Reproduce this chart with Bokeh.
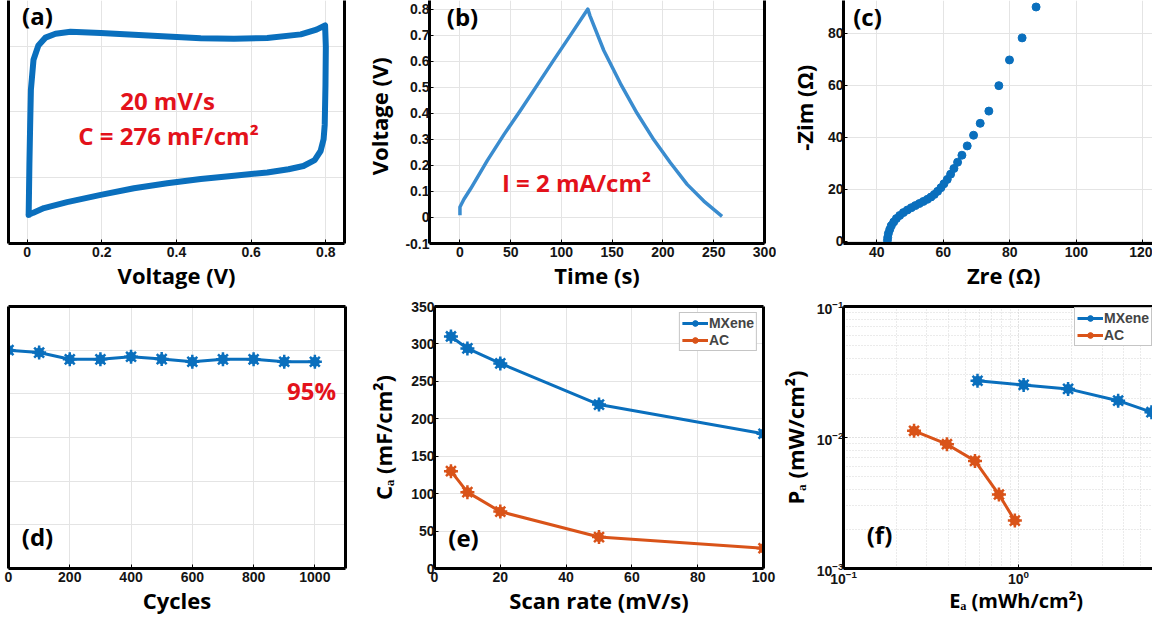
import math
from bokeh.plotting import figure
from bokeh.layouts import row, column
from bokeh.models import (Range1d, FixedTicker, CustomJSTickFormatter, Label,
                          LinearAxis, LogAxis, Legend, LegendItem, LogTickFormatter)
from bokeh.embed import file_html
from bokeh.resources import INLINE

# ---------------- data ----------------
# (a) cyclic voltammogram, 20 mV/s
cv_voltage = [0.004, 0.005, 0.006, 0.008, 0.010, 0.017, 0.030, 0.049, 0.076, 0.116,
              0.197, 0.286, 0.375, 0.465, 0.554, 0.643, 0.733, 0.775, 0.798,
              0.800, 0.799, 0.797, 0.794, 0.786, 0.770, 0.740, 0.700, 0.643, 0.554,
              0.465, 0.375, 0.286, 0.197, 0.107, 0.045, 0.015, 0.004]
cv_current = [-7.9, -6.0, -4.0, -1.0, 1.7, 4.0, 5.1, 5.7, 6.0, 6.15,
              6.05, 5.93, 5.78, 5.66, 5.62, 5.68, 5.95, 6.31, 6.64,
              5.0, 2.0, -1.0, -2.1, -3.0, -3.7, -4.15, -4.4, -4.65, -4.9,
              -5.15, -5.48, -5.86, -6.37, -6.92, -7.38, -7.75, -7.9]
cv_xticks = [0, 0.2, 0.4, 0.6, 0.8]
cv_yticks = [-10, -5, 0, 5]

# (b) galvanostatic charge/discharge, 2 mA/cm2
gcd_time = [0, 0, 3.9, 10.5, 26.9, 43.3, 59.7, 76.1, 92.5, 108.9, 123.7, 126.0,
            128.0, 141.7, 158.1, 174.5, 191.0, 207.3, 223.8, 240.2, 258.2]
gcd_voltage = [0.008, 0.04, 0.07, 0.11, 0.218, 0.318, 0.412, 0.508, 0.605, 0.700,
               0.787, 0.800, 0.775, 0.641, 0.514, 0.400, 0.298, 0.210, 0.127, 0.063, 0.004]
gcd_xticks = [0, 50, 100, 150, 200, 250, 300]
gcd_yticks = [-0.1, 0, 0.1, 0.2, 0.3, 0.4, 0.5, 0.6, 0.7, 0.8]

# (c) Nyquist plot
nyq_zre = [43.2, 43.3, 43.5, 43.9, 44.4, 45.1, 45.9, 46.9, 48.0, 49.2, 50.4, 51.6,
           52.8, 54.0, 55.2, 56.3, 57.3, 58.3, 59.3, 60.2, 61.2, 62.2, 63.2, 64.3,
           65.6, 67.2, 69.1, 71.1, 73.7, 76.7, 79.9, 83.7, 87.9]
nyq_zim = [0.3, 1.5, 3.0, 4.5, 6.0, 7.4, 8.7, 9.9, 11.0, 12.0, 12.9, 13.7,
           14.5, 15.3, 16.1, 17.0, 18.0, 19.2, 20.6, 22.1, 23.8, 25.8, 28.0, 30.4,
           33.1, 36.7, 40.8, 45.4, 50.1, 59.9, 69.8, 78.3, 90.2]
nyq_xticks = [40, 60, 80, 100, 120]
nyq_yticks = [0, 20, 40, 60, 80]

# (d) cycling stability
cycles = [0, 100, 200, 300, 400, 500, 600, 700, 800, 900, 1000]
retention = [100, 98.9, 95.8, 95.8, 97.0, 95.9, 94.7, 95.8, 95.8, 94.7, 94.7]
cyc_xticks = [0, 200, 400, 600, 800, 1000]
cyc_yticks = [0, 20, 40, 60, 80, 100, 120]

# (e) areal capacitance vs scan rate
scan_rate = [5, 10, 20, 50, 100]
ca_mxene = [310, 294, 274, 219, 180]
ca_ac = [130, 102, 76, 42, 27]
sr_xticks = [0, 20, 40, 60, 80, 100]
sr_yticks = [0, 50, 100, 150, 200, 250, 300, 350]

# (f) Ragone plot
ea_mxene = [0.583, 1.07, 1.92, 3.71, 5.75]
pa_mxene = [0.0271, 0.0252, 0.0235, 0.0191, 0.0156]
ea_ac = [0.253, 0.390, 0.564, 0.773, 0.953]
pa_ac = [0.01125, 0.00889, 0.00663, 0.00367, 0.00232]
rag_xticks = [0.1, 1, 10]
rag_xminor = [0.2, 0.3, 0.4, 0.5, 0.6, 0.7, 0.8, 0.9, 2, 3, 4, 5, 6, 7, 8, 9]
rag_yticks = [0.001, 0.01, 0.1]
rag_yminor = [0.002, 0.003, 0.004, 0.005, 0.006, 0.007, 0.008, 0.009,
              0.02, 0.03, 0.04, 0.05, 0.06, 0.07, 0.08, 0.09]

# ---------------- styling ----------------
BLUE = "#0a6fbd"
BLUE_B = "#3a8ccf"
ORANGE = "#d95319"
RED = "#e3121b"
GRID = "#e4e4e4"
TICK_FONT = "Liberation Sans"
TITLE_FONT = "Open Sans"
TITLE_PX = "22px"
NB = "\u00a0"


def style_axis(ax):
    ax.axis_line_width = 3
    ax.axis_line_color = "black"
    ax.major_tick_in = 4
    ax.major_tick_out = 0
    ax.minor_tick_in = 0
    ax.minor_tick_out = 0
    ax.major_tick_line_color = "black"
    ax.major_label_text_font = TICK_FONT
    ax.major_label_text_font_style = "bold"
    ax.major_label_text_font_size = "14px"
    ax.major_label_text_color = "#141414"
    ax.major_label_standoff = 3
    ax.axis_label_standoff = 0
    ax.axis_label_text_font = TITLE_FONT
    ax.axis_label_text_font_style = "bold"
    ax.axis_label_text_font_size = TITLE_PX
    ax.axis_label_text_color = "black"


def base_fig(width, height, xr, yr, borders, x_type="linear", y_type="linear"):
    l, r, t, b = borders
    p = figure(width=width, height=height, x_range=Range1d(*xr), y_range=Range1d(*yr),
               x_axis_type=x_type, y_axis_type=y_type, output_backend="svg",
               toolbar_location=None, min_border_left=l, min_border_right=r,
               min_border_top=t, min_border_bottom=b)
    p.outline_line_color = None
    p.border_fill_color = "white"
    p.background_fill_color = "white"
    p.grid.grid_line_color = GRID
    p.grid.grid_line_width = 1
    for ax in list(p.xaxis) + list(p.yaxis):
        style_axis(ax)
    for ax in p.yaxis:
        ax.major_label_standoff = 0
    return p


def frame_axis(p, side, log=False):
    cls = LogAxis if log else LinearAxis
    ax = cls(ticker=FixedTicker(ticks=[]), axis_line_width=3, axis_line_color="black",
             major_tick_in=0, major_tick_out=0, minor_tick_in=0, minor_tick_out=0,
             major_label_standoff=0, axis_label_standoff=0)
    p.add_layout(ax, side)


def txt(p, x, y, text, size, color="black"):
    p.add_layout(Label(x=x, y=y, x_units="screen", y_units="screen", text=text,
                       text_font=TITLE_FONT, text_font_size=f"{size}px",
                       text_font_style="bold", text_color=color,
                       text_align="center", text_baseline="middle"))


def marker_series(p, x, y, color, lw=3):
    r1 = p.line(x, y, color=color, line_width=lw)
    r2 = p.scatter(x, y, marker="circle", size=9, color=color)
    r3 = p.scatter(x, y, marker="asterisk", size=14, line_width=2.5, line_color=color)
    return [r1, r2, r3]


one_dec = "return (Math.round(tick*10)/10).toString();"

TOP_H, BOT_H = 292, 325
TOP_BB, BOT_TB, BOT_BB = 47, 14, 48

# ---------------- (a) ----------------
pa = base_fig(356, TOP_H, (-0.05, 0.85), (-10.1, 8.55), (8, 12, 0, TOP_BB))
pa.xaxis.ticker = FixedTicker(ticks=cv_xticks)
pa.xaxis.formatter = CustomJSTickFormatter(code=one_dec)
pa.xaxis.axis_label = "Voltage (V)"
pa.yaxis.ticker = FixedTicker(ticks=[])
pa.ygrid.ticker = FixedTicker(ticks=cv_yticks)
pa.xgrid.ticker = FixedTicker(ticks=cv_xticks)
frame_axis(pa, "right")
pa.line(cv_voltage + cv_voltage[:1], cv_current + cv_current[:1], color=BLUE,
        line_width=6, line_join="round", line_cap="round")
txt(pa, 29, 228, "(a)", 24)
txt(pa, 159, 143, "20 mV/s", 24, color=RED)
txt(pa, 160, 108, "C = 276 mF/cm\u00b2", 24, color=RED)

# ---------------- (b) ----------------
pb = base_fig(420, TOP_H, (-30, 300), (-0.1, 0.833), (73, 12, 0, TOP_BB))
pb.xaxis.ticker = FixedTicker(ticks=gcd_xticks)
pb.yaxis.ticker = FixedTicker(ticks=gcd_yticks)
pb.yaxis.formatter = CustomJSTickFormatter(code=one_dec)
pb.xaxis.axis_label = "Time (s)"
pb.yaxis.axis_label = NB * 2 + "Voltage (V)"
pb.yaxis.axis_label_standoff = 8
frame_axis(pb, "right")
pb.line(gcd_time, gcd_voltage, color=BLUE_B, line_width=3.5, line_join="round")
txt(pb, 33, 227, "(b)", 24)
txt(pb, 147, 61, "I = 2 mA/cm\u00b2", 24, color=RED)

# ---------------- (c) ----------------
pc = base_fig(376, TOP_H, (30, 122.9), (-0.9, 92.7), (67, 0, 0, TOP_BB))
pc.xaxis.ticker = FixedTicker(ticks=nyq_xticks)
pc.yaxis.ticker = FixedTicker(ticks=nyq_yticks)
pc.xaxis.axis_label = NB * 2 + "Zre (\u03a9)"
pc.yaxis.axis_label = NB * 5 + "-Zim (\u03a9)"
pc.yaxis.axis_label_standoff = 6
pc.scatter(nyq_zre, nyq_zim, marker="circle", size=8, color=BLUE)
txt(pc, 24, 227, "(c)", 24)

# ---------------- (d) ----------------
pd_ = base_fig(356, BOT_H, (0, 1100), (0, 120), (8, 11, BOT_TB, BOT_BB))
pd_.xaxis.ticker = FixedTicker(ticks=cyc_xticks)
pd_.xaxis.axis_label = "Cycles"
pd_.yaxis.ticker = FixedTicker(ticks=[])
pd_.ygrid.ticker = FixedTicker(ticks=cyc_yticks)
frame_axis(pd_, "right")
frame_axis(pd_, "above")
marker_series(pd_, cycles, retention, BLUE)
txt(pd_, 29, 32, "(d)", 24)
txt(pd_, 303, 178, "95%", 24, color=RED)

# ---------------- (e) ----------------
pe = base_fig(420, BOT_H, (0, 100), (0, 350), (78, 13, BOT_TB, BOT_BB))
pe.xaxis.ticker = FixedTicker(ticks=sr_xticks)
pe.yaxis.ticker = FixedTicker(ticks=sr_yticks)
pe.xaxis.axis_label = "Scan rate (mV/s)"
pe.yaxis.axis_label = "C\u2090 (mF/cm\u00b2)"
pe.yaxis.axis_label_standoff = 10
frame_axis(pe, "right")
frame_axis(pe, "above")
rm = marker_series(pe, scan_rate, ca_mxene, BLUE)
ra = marker_series(pe, scan_rate, ca_ac, ORANGE)
txt(pe, 29, 31, "(e)", 24)

# ---------------- (f) ----------------
pf = base_fig(376, BOT_H, (0.1, 5.83), (1e-3, 1e-1), (67, 0, BOT_TB, BOT_BB),
              x_type="log", y_type="log")
pf.xaxis.ticker = FixedTicker(ticks=rag_xticks, minor_ticks=rag_xminor)
pf.yaxis.ticker = FixedTicker(ticks=rag_yticks, minor_ticks=rag_yminor)
pf.xaxis.formatter = LogTickFormatter()
pf.yaxis.formatter = LogTickFormatter()
pf.xaxis.major_label_standoff = 1
pf.xaxis.axis_label = NB * 7 + "E\u2090 (mWh/cm\u00b2)"
pf.xaxis.axis_label_text_font_size = "20px"
pf.yaxis.axis_label = "P\u2090 (mW/cm\u00b2)"
pf.yaxis.axis_label_standoff = 4
frame_axis(pf, "above", log=True)
pf.grid.grid_line_dash = "1 2"
pf.grid.grid_line_color = "#c4c4c4"
pf.grid.minor_grid_line_color = "#d6d6d6"
pf.grid.minor_grid_line_dash = "1 2"
fm = marker_series(pf, ea_mxene, pa_mxene, BLUE)
fa = marker_series(pf, ea_ac, pa_ac, ORANGE)
txt(pf, 36, 34, "(f)", 24)


def add_legend(p, items, loc, margin=0):
    lg = Legend(items=[LegendItem(label=lab, renderers=rs) for lab, rs in items],
                location=loc, orientation="vertical", label_text_font=TICK_FONT,
                label_text_font_style="bold", label_text_font_size="14px",
                glyph_width=26, glyph_height=14, label_height=14, spacing=1,
                padding=2, margin=margin, label_standoff=1, border_line_color="#8c8c8c",
                border_line_width=1, background_fill_alpha=1.0)
    p.add_layout(lg)


add_legend(pe, [("MXene", rm), ("AC", ra)], "top_right", margin=6)
add_legend(pf, [("MXene", fm), ("AC", fa)], (231, 222))

layout = column(row(pa, pb, pc), row(pd_, pe, pf))

open("out.html", "w").write(file_html(layout, INLINE))
